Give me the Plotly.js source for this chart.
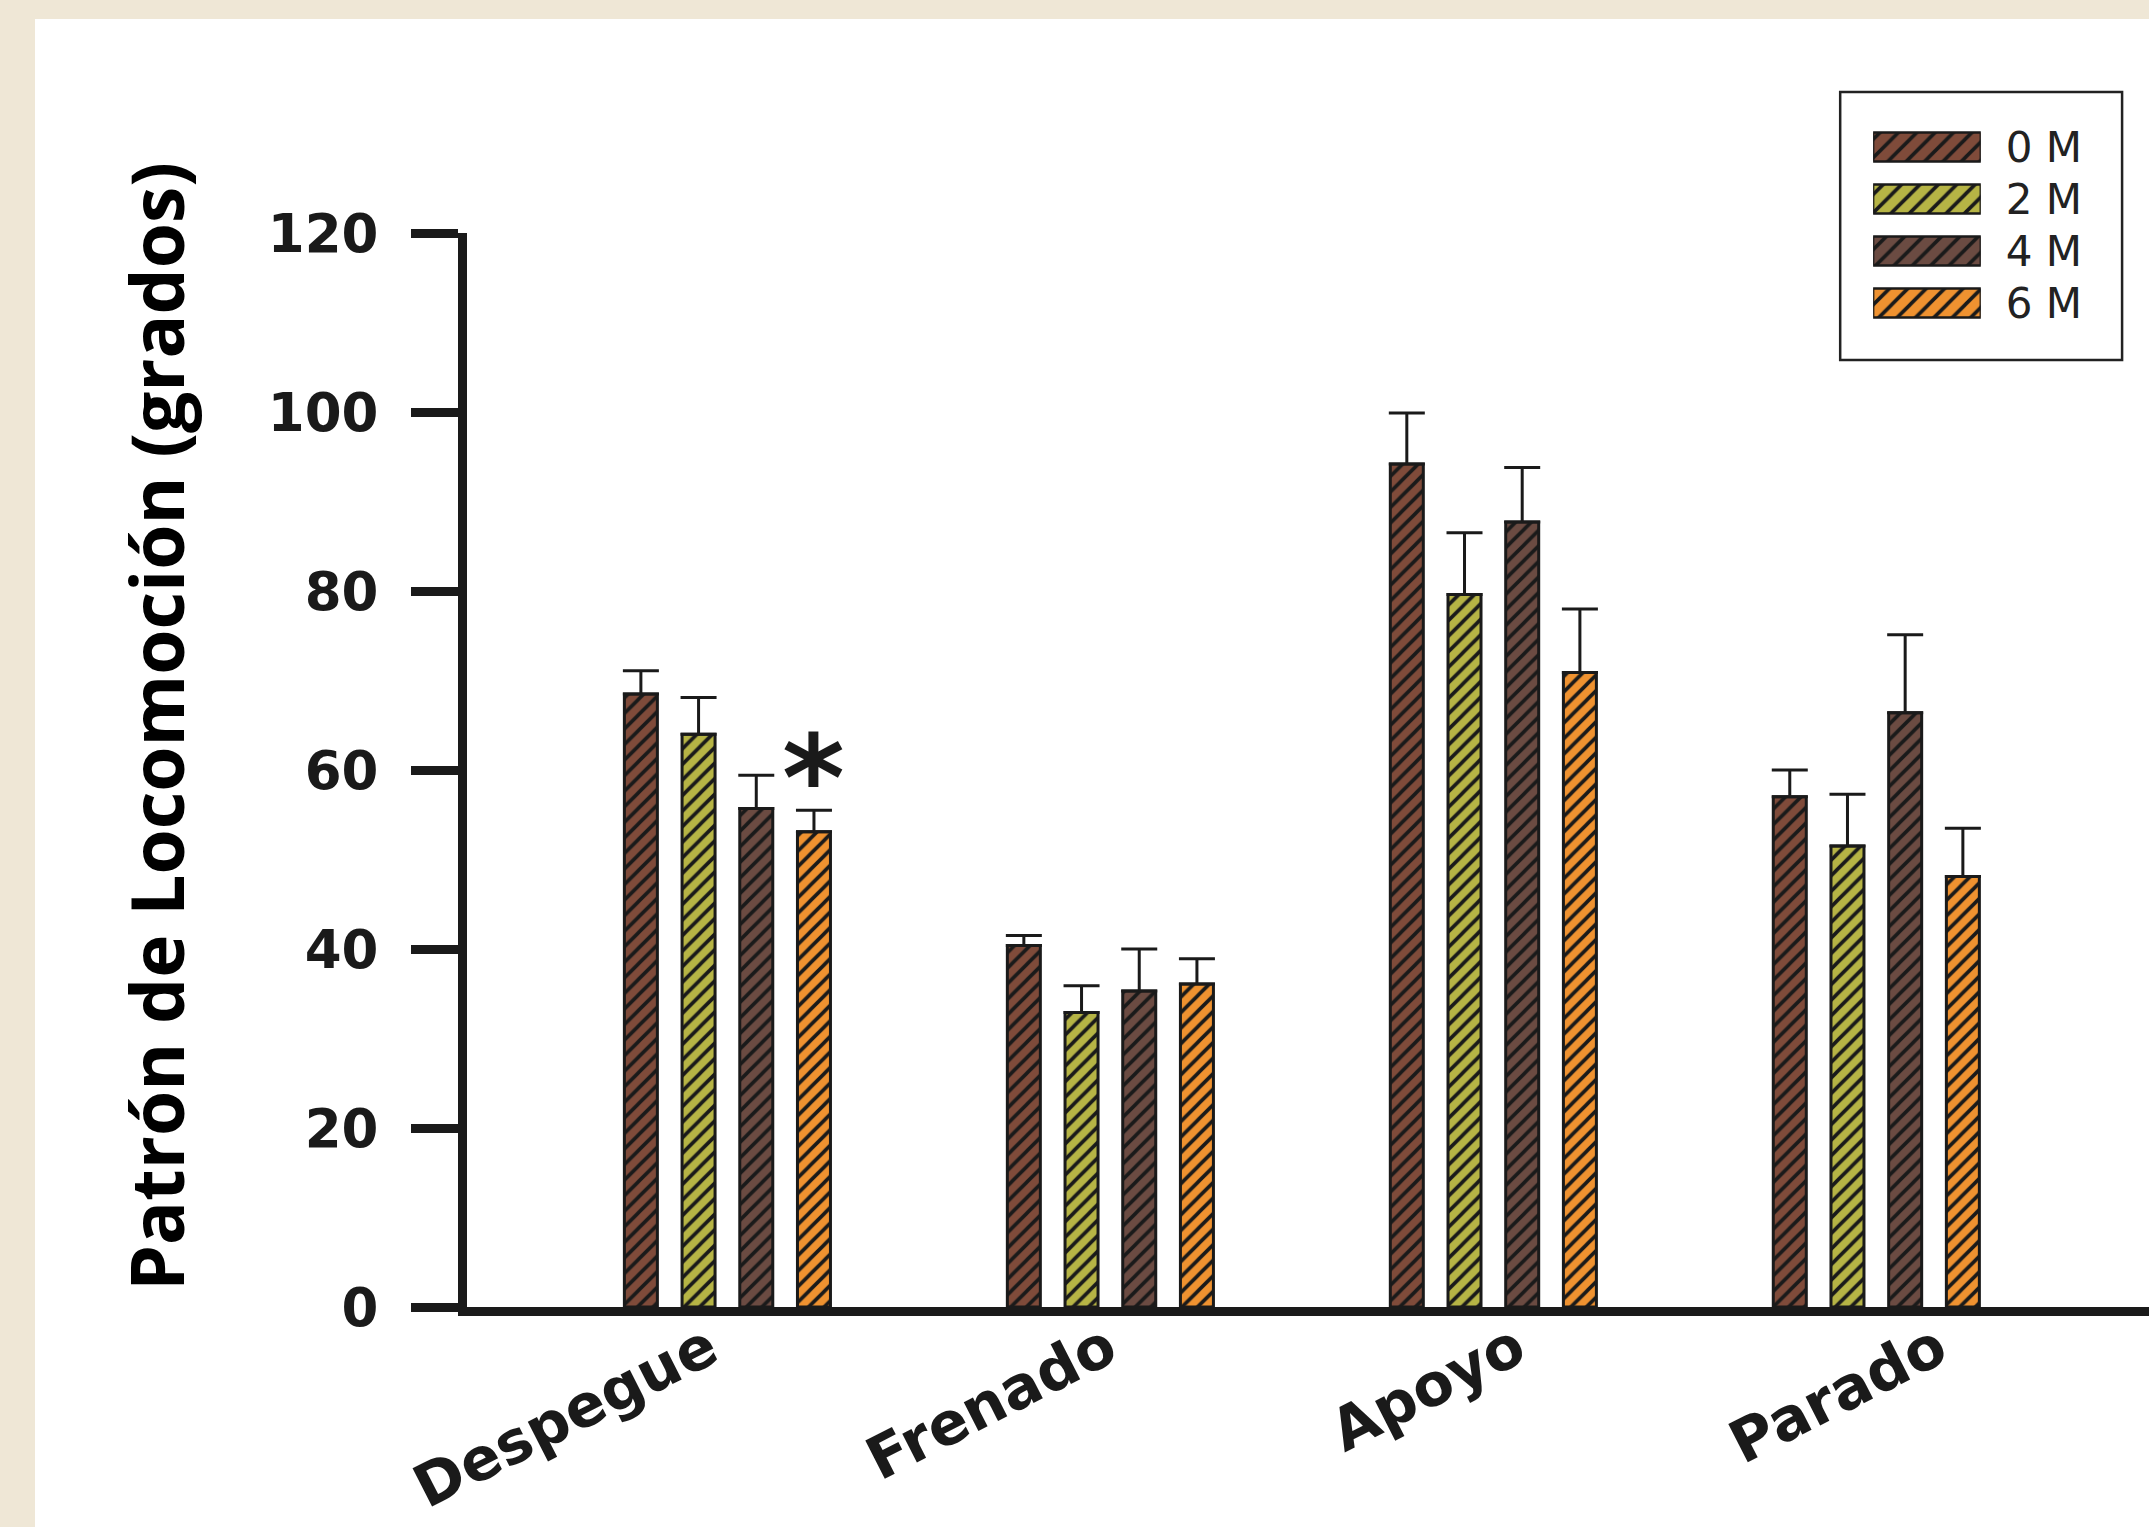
<!DOCTYPE html>
<html>
<head>
<meta charset="utf-8">
<script src="https://cdn.plot.ly/plotly-3.0.1.min.js"></script>
<style>
  html, body { margin: 0; padding: 0; width: 2149px; height: 1527px; overflow: hidden; background: #EFE7D6; }
  #chart { position: absolute; left: 35px; top: 19px; width: 2114px; height: 1508px; background: #ffffff; }
</style>
</head>
<body>
<div id="chart"></div>
<script>
// ---- data ----
const categories = ['Despegue', 'Frenado', 'Apoyo', 'Parado'];
const seriesNames = ['0 M', '2 M', '4 M', '6 M'];
const seriesColors = ['#7F4B3A', '#B6B445', '#6B4B42', '#EF9230'];

const mean0M = [68.5, 40.4, 94.2, 57.0];
const err0M  = [2.6, 1.1, 5.7, 3.0];
const mean2M = [64.0, 32.9, 79.6, 51.5];
const err2M  = [4.1, 3.0, 6.9, 5.8];
const mean4M = [55.7, 35.3, 87.7, 66.4];
const err4M  = [3.7, 4.7, 6.1, 8.7];
const mean6M = [53.1, 36.1, 70.9, 48.1];
const err6M  = [2.4, 2.8, 7.1, 5.4];

const yTickVals = [0, 20, 40, 60, 80, 100, 120];
const yTitle = 'Patrón de Locomoción (grados)';
const significanceMark = '*';
const significanceCategory = 'Despegue';
const significanceSeries = '6 M';
const significanceY = 59.1;
const legendKeyLength = [1];

const means = [mean0M, mean2M, mean4M, mean6M];
const errs = [err0M, err2M, err4M, err6M];
const ink = '#1a1a1a';

const traces = seriesNames.map((name, i) => ({
  type: 'bar',
  name: name,
  x: categories,
  y: means[i],
  marker: {
    color: seriesColors[i],
    line: { color: ink, width: 3 },
    pattern: { shape: '/', fgcolor: ink, bgcolor: seriesColors[i], size: 11, solidity: 0.33 }
  },
  error_y: {
    type: 'data', symmetric: false, array: errs[i],
    arrayminus: errs[i].map(() => 0),
    color: ink, thickness: 3, width: 18
  },
  showlegend: false,
  hoverinfo: 'x+y'
}));

// legend keys drawn as a small inset bar chart (one trace per series)
seriesNames.forEach((name, i) => {
  traces.push({
    type: 'bar',
    orientation: 'h',
    x: legendKeyLength,
    y: [name],
    width: 0.56,
    offset: -0.28,
    xaxis: 'x2', yaxis: 'y2',
    marker: {
      color: seriesColors[i],
      line: { color: ink, width: 2.5 },
      pattern: { shape: '/', fgcolor: ink, bgcolor: seriesColors[i], size: 13, solidity: 0.28 }
    },
    showlegend: false,
    hoverinfo: 'skip'
  });
});

// position of the significance mark: over the chosen bar of the chosen group
const nSeries = seriesNames.length;
const groupWidth = 1 - 0.3974;
const slot = groupWidth / nSeries;
const sIdx = seriesNames.indexOf(significanceSeries);
const markX = categories.indexOf(significanceCategory) - groupWidth / 2 + slot * (sIdx + 0.5);

// category labels: rotated, their right end placed near each group (drifting right as in the reference)
const labelDrift = [-0.033, 0.007, 0.072, 0.174];
const categoryLabels = categories.map((c, i) => ({
  xref: 'x', yref: 'paper',
  x: i + labelDrift[i], y: 0,
  xanchor: 'right', yanchor: 'top',
  xshift: 17, yshift: 0,
  text: c, textangle: -27, showarrow: false,
  font: { family: 'DejaVu Sans', size: 59, weight: 'bold', color: ink }
}));

const layout = {
  width: 2114, height: 1508,
  margin: { l: 432, r: 0, t: 60, b: 220 },
  paper_bgcolor: '#ffffff',
  plot_bgcolor: 'rgba(0,0,0,0)',
  font: { family: 'DejaVu Sans', color: ink },
  barmode: 'group',
  bargap: 0.3974,
  bargroupgap: 0.428,
  xaxis: {
    type: 'category',
    range: [-0.680, 3.712],
    showline: true, linecolor: ink, linewidth: 9,
    ticks: '', showgrid: false, zeroline: false,
    showticklabels: false,
    fixedrange: true
  },
  yaxis: {
    domain: [0, 0.87459],
    range: [0, 120],
    tickvals: yTickVals,
    showline: true, linecolor: ink, linewidth: 9,
    ticks: 'outside', ticklen: 47, tickwidth: 9, tickcolor: ink,
    showgrid: false, zeroline: false,
    tickfont: { family: 'DejaVu Sans', size: 53, weight: 'bold', color: ink },
    ticklabelstandoff: 22,
    fixedrange: true
  },
  xaxis2: {
    domain: [0.83598, 0.90000],
    anchor: 'y2',
    range: [0, 1],
    visible: false,
    fixedrange: true
  },
  yaxis2: {
    domain: [0.79642, 0.96580],
    anchor: 'x2',
    side: 'right',
    type: 'category',
    autorange: 'reversed',
    tickmode: 'array',
    tickvals: seriesNames,
    ticktext: seriesNames,
    showline: false, showgrid: false, zeroline: false, ticks: '',
    tickfont: { family: 'DejaVu Sans', size: 42, color: '#222222' },
    ticklabelstandoff: 24,
    fixedrange: true
  },
  shapes: [{
    type: 'rect', xref: 'paper', yref: 'paper',
    x0: 0.81640, x1: 0.98400, y0: 0.77117, y1: 0.98941,
    line: { color: '#222222', width: 2.5 }, fillcolor: 'rgba(0,0,0,0)'
  }],
  annotations: [
    {
      xref: 'paper', yref: 'paper', x: -0.18500, y: 0.47313,
      xanchor: 'center', yanchor: 'middle',
      text: yTitle, textangle: -90, showarrow: false,
      font: { family: 'Open Sans', size: 73, weight: 'bold', color: '#000000' }
    },
    {
      xref: 'x', yref: 'y', x: markX, y: significanceY,
      xanchor: 'center', yanchor: 'middle',
      text: significanceMark, showarrow: false,
      font: { family: 'DejaVu Sans', size: 120, weight: 'bold', color: ink }
    }
  ].concat(categoryLabels)
};

Plotly.newPlot('chart', traces, layout, { displayModeBar: false, staticPlot: true });
</script>
</body>
</html>
